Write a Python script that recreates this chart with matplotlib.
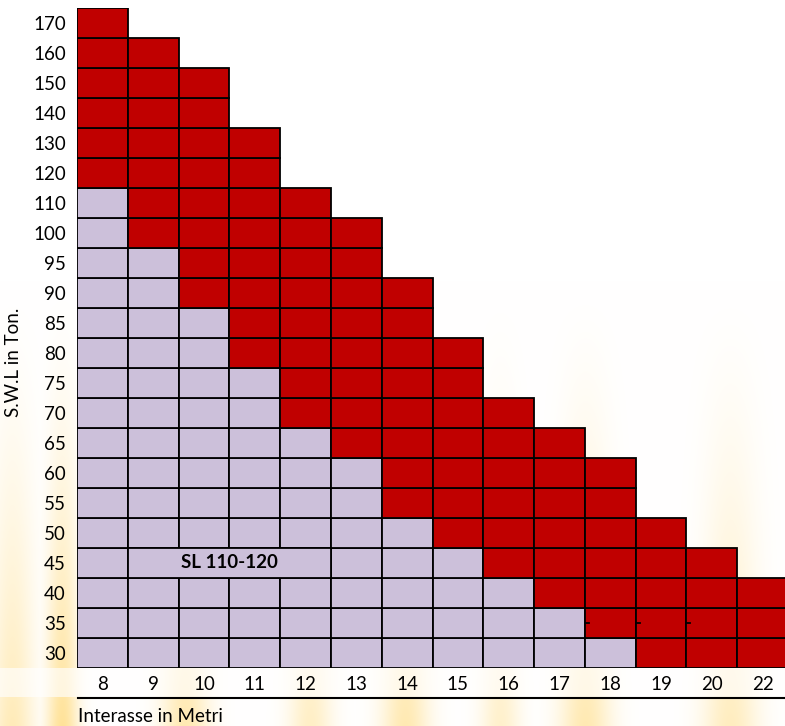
import numpy as np
import matplotlib.pyplot as plt

# spans (m) and S.W.L. rows (t)
spans = [8, 9, 10, 11, 12, 13, 14, 15, 16, 17, 18, 19, 20, 22]
swl_rows = [30, 35, 40, 45, 50, 55, 60, 65, 70, 75, 80, 85, 90, 95,
            100, 110, 120, 130, 140, 150, 160, 170]
# highest S.W.L. available per span
max_swl = [170, 160, 150, 130, 110, 100, 90, 80, 70, 65, 60, 50, 45, 40]
# highest S.W.L. covered by the SL 110-120 model (None = not covered)
max_sl = [110, 95, 85, 75, 65, 60, 50, 45, 40, 35, 30, None, None, None]
model_label = "SL 110-120"
model_label_row = 45
model_label_spans = [9, 10, 11, 12]

RED = "#C00000"
LAV = "#CCC0DA"

plt.rcParams['font.family'] = ['Lato', 'DejaVu Sans']

fig = plt.figure(figsize=(7.85, 7.26), dpi=100)

# soft yellow stripes in the background
bg = fig.add_axes([0, 0, 1, 1], zorder=-5)
W, H = 785, 726
xx = np.arange(W)[None, :]
yy = np.arange(H)[:, None]
stripe = np.zeros((1, W))
for cx, w, s in [(12, 22, 0.55), (62, 16, 0.8), (185, 24, 0.6), (310, 22, 0.45),
                 (405, 24, 0.6), (500, 20, 0.4), (585, 26, 0.6), (730, 28, 0.5)]:
    stripe = np.maximum(stripe, s * np.exp(-((xx - cx) / w) ** 2))
amp = np.clip((yy - 280) / 446.0, 0, 1) ** 1.5
k = stripe * amp
img = np.ones((H, W, 3))
yel = np.array([1.0, 0.86, 0.5])
img = img * (1 - k[..., None]) + yel * k[..., None]
# white band under the grid
img[668:697, :, :] = img[668:697, :, :] * 0.35 + 0.65
bg.imshow(img, aspect='auto', extent=[0, W, H, 0])
bg.axis('off')

ax = fig.add_axes([77 / 785, 58 / 726, 711 / 785, 660 / 726])
ax.set_facecolor('none')

merged_cols = [spans.index(s) for s in model_label_spans]
label_row = swl_rows.index(model_label_row)

for i, span in enumerate(spans):
    n_rows = swl_rows.index(max_swl[i]) + 1
    n_sl = swl_rows.index(max_sl[i]) + 1 if max_sl[i] is not None else 0
    for j in range(n_rows):
        if j == label_row and i in merged_cols:
            continue
        color = LAV if j < n_sl else RED
        ax.bar(i, 1, bottom=j, width=1, align='edge', color=color,
               edgecolor='black', linewidth=1.3)

# merged cell with the model name
ax.bar(merged_cols[0], 1, bottom=label_row, width=len(merged_cols),
       align='edge', color=LAV, edgecolor='black', linewidth=1.3)
ax.text(merged_cols[0] + len(merged_cols) / 2, label_row + 0.5, model_label,
        ha='center', va='center', fontsize=13.5, fontweight='bold')

# small dash marks in the 35 t row
r35 = swl_rows.index(35)
for s in [18, 19, 20]:
    c = spans.index(s)
    ax.plot([c, c + 0.08], [r35 + 0.5, r35 + 0.5], color='black', lw=1.3)

ax.set_xlim(0, len(spans))
ax.set_ylim(0, len(swl_rows))
ax.set_xticks(np.arange(len(spans)) + 0.5)
ax.set_xticklabels([str(s) for s in spans], fontsize=13.5)
ax.set_yticks(np.arange(len(swl_rows)) + 0.5)
ax.set_yticklabels([str(r) for r in swl_rows], fontsize=13.5)
ax.tick_params(length=0, pad=6)
ax.tick_params(axis='y', pad=8)
for sp in ax.spines.values():
    sp.set_visible(False)

# rule under the span labels and axis titles
fig.add_artist(plt.Line2D([78 / 785, 1], [1 - 698 / 726, 1 - 698 / 726],
                          color='black', lw=1.5))
fig.text(78 / 785, 1 - 716 / 726, "Interasse in Metri", fontsize=13.5,
         ha='left', va='center')
fig.text(14 / 785, 1 - 362 / 726, "S.W.L in Ton.", fontsize=13.5,
         rotation=90, ha='center', va='center')

fig.savefig("out.png", dpi=100)
